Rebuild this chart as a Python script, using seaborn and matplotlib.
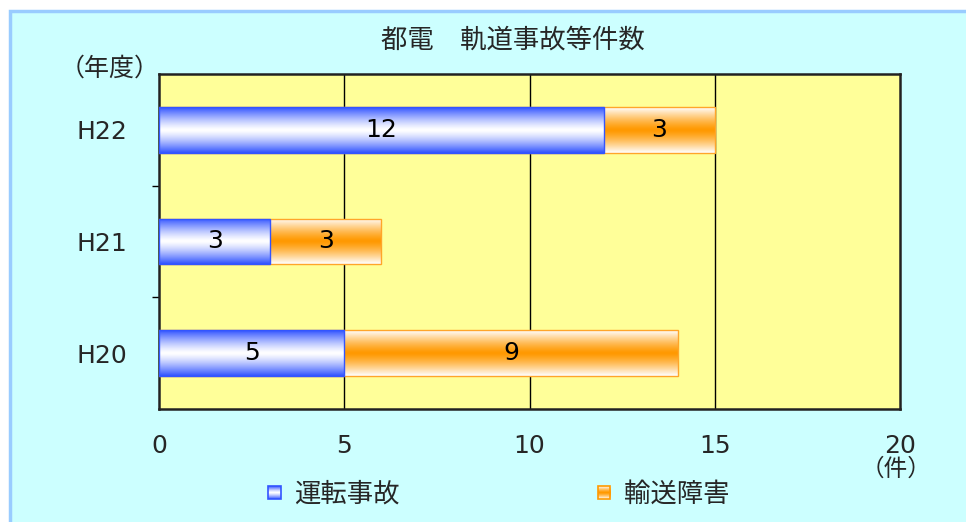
import numpy as np
import pandas as pd
import matplotlib
matplotlib.use("Agg")
import matplotlib.pyplot as plt
import seaborn as sns
from matplotlib.patches import Rectangle
from matplotlib.legend_handler import HandlerBase
from matplotlib.image import BboxImage
from matplotlib.transforms import Bbox, TransformedBbox

# ---- data ----
years = ["H22", "H21", "H20"]
unten_jiko = [12, 3, 5]      # 運転事故
yuso_shogai = [3, 3, 9]      # 輸送障害
series_names = ["運転事故", "輸送障害"]
title = "都電　軌道事故等件数"
x_ticks = [0, 5, 10, 15, 20]

sns.set_theme(style="white")
plt.rcParams['font.family'] = ['Noto Sans CJK JP', 'DejaVu Sans']
NUMFONT = ['DejaVu Sans']

BLUE = np.array([0x33, 0x55, 0xFF]) / 255.0
ORANGE = np.array([0xFF, 0x99, 0x00]) / 255.0
WHITE = np.array([1.0, 1.0, 1.0])

def grad(edge, center, n=64):
    t = np.linspace(-1, 1, n)
    w = np.abs(t) ** 1.3
    cols = center[None, :] * (1 - w[:, None]) + edge[None, :] * w[:, None]
    return cols[:, None, :]

BLUE_GRAD = grad(BLUE, WHITE)
ORANGE_GRAD = grad(WHITE, ORANGE)

df = pd.DataFrame({"year": years, "a": unten_jiko, "b": yuso_shogai})
df["total"] = df["a"] + df["b"]

fig = plt.figure(figsize=(9.66, 5.22), dpi=100)
fig.patch.set_facecolor("white")
# background panel with light-blue border
bg = Rectangle((9.5 / 966, -0.05), 1.1, 1 - 10.5 / 522 + 0.05,
               transform=fig.transFigure, facecolor="#CCFFFF",
               edgecolor="#99CCFF", linewidth=2.5, zorder=-10)
fig.patches.append(bg)

ax = fig.add_axes([159 / 966, 1 - 409 / 522, 741 / 966, 335 / 522])
ax.set_zorder(1)
ax.set_facecolor("#FFFF99")

# orange (total) first, blue on top
sns.barplot(data=df, x="total", y="year", order=years, orient="h",
            color="#FF9900", width=0.41, ax=ax, zorder=3)
n_or = len(ax.patches)
sns.barplot(data=df, x="a", y="year", order=years, orient="h",
            color="#3355FF", width=0.41, ax=ax, zorder=4)

patches = list(ax.patches)
for i, p in enumerate(patches):
    is_orange = i < n_or
    g = ORANGE_GRAD if is_orange else BLUE_GRAD
    x0, y0 = p.get_x(), p.get_y()
    w, h = p.get_width(), p.get_height()
    p.set_facecolor("none")
    p.set_edgecolor("#FFA52A" if is_orange else "#3355FF")
    p.set_linewidth(1.0)
    im = ax.imshow(g, extent=[x0, x0 + w, y0 + h, y0], aspect="auto",
                   zorder=3.5 if is_orange else 4.5, interpolation="bilinear")
    im.set_clip_path(p)
    p.set_zorder(3.6 if is_orange else 4.6)

# value labels
for i, yr in enumerate(years):
    a = unten_jiko[i]
    b = yuso_shogai[i]
    ax.text(a / 2, i, str(a), ha="center", va="center", fontsize=18,
            family=NUMFONT, color="black", zorder=6)
    ax.text(a + b / 2, i, str(b), ha="center", va="center", fontsize=18,
            family=NUMFONT, color="black", zorder=6)

ax.set_xlim(0, 20)
ax.set_ylim(2.5, -0.5)
ax.set_xticks(x_ticks)
ax.set_xticklabels([str(v) for v in x_ticks], fontsize=18, family=NUMFONT)
ax.set_yticks(range(len(years)))
ax.set_yticklabels(years, fontsize=18, family=NUMFONT)
ax.set_yticks([0.5, 1.5], minor=True)
ax.tick_params(axis="y", which="major", length=0, pad=23)
ax.tick_params(axis="y", which="minor", length=5, width=1, color="black", direction="out", left=True)
ax.tick_params(axis="x", which="major", length=0, pad=18)
ax.set_xlabel("")
ax.set_ylabel("")
for v in [5, 10, 15]:
    ax.axvline(v, color="black", linewidth=1, zorder=1)
for s in ax.spines.values():
    s.set_visible(True)
    s.set_color("#222222")
    s.set_linewidth(1.8)
ax.grid(False)

fig.text(513 / 966, 1 - 40 / 522, title, ha="center", va="center", fontsize=19)
fig.text(110 / 966, 1 - 69 / 522, "（年度）", ha="center", va="center", fontsize=18)
fig.text(896 / 966, 1 - 469 / 522, "（件）", ha="center", va="center", fontsize=17)

# legend with gradient squares
class GradHandler(HandlerBase):
    def __init__(self, g, ec):
        super().__init__()
        self.g = g
        self.ec = ec
    def create_artists(self, legend, orig_handle, xdescent, ydescent,
                       width, height, fontsize, trans):
        s = min(width, height) * 0.8
        x = -xdescent + (width - s)
        y = -ydescent + (height - s) / 2
        bb = TransformedBbox(Bbox.from_bounds(x, y, s, s), trans)
        img = BboxImage(bb, interpolation="bilinear")
        img.set_data(self.g)
        r = Rectangle((x, y), s, s, facecolor="none", edgecolor=self.ec,
                      linewidth=1.2, transform=trans)
        return [img, r]

h1 = Rectangle((0, 0), 1, 1)
h2 = Rectangle((0, 0), 1, 1)
leg = fig.legend([h1, h2], series_names, loc="center",
                 bbox_to_anchor=(497 / 966, 1 - 494 / 522), ncol=2,
                 frameon=False, fontsize=19, columnspacing=7.4,
                 handlelength=0.6, handleheight=0.6, handletextpad=0.5,
                 handler_map={h1: GradHandler(BLUE_GRAD, "#3355FF"),
                              h2: GradHandler(ORANGE_GRAD, "#FF9900")})

fig.savefig("out.png", dpi=100, facecolor=fig.get_facecolor())
